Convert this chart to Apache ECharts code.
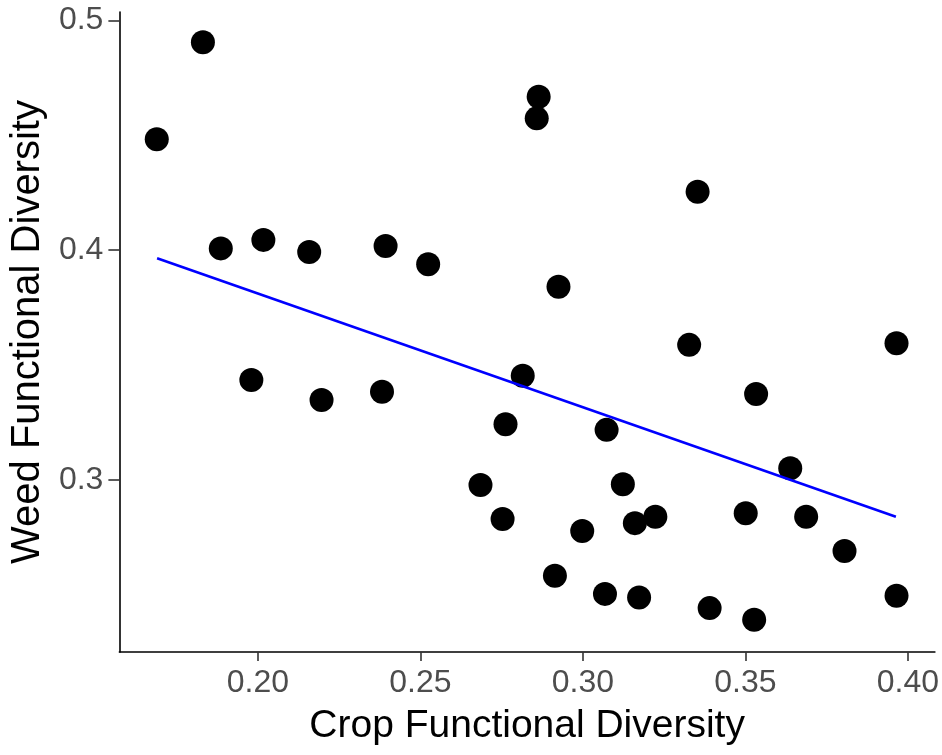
<!DOCTYPE html>
<html>
<head>
<meta charset="utf-8">
<script src="https://cdn.jsdelivr.net/npm/echarts@6/dist/echarts.min.js"></script>
<style>
html,body{margin:0;padding:0;background:#fff;}
#chart{width:942px;height:755px;}
</style>
</head>
<body>
<div id="chart"></div>
<script>
// Crop functional diversity (x) and weed functional diversity (y)
var cropFD = [0.1689,0.1831,0.1886,0.2017,0.2158,0.2393,0.2524,0.1980,0.2196,0.2382,
  0.2864,0.2858,0.3353,0.2925,0.3327,0.3965,0.2815,0.3533,0.2762,0.3073,
  0.2685,0.3123,0.2753,0.3160,0.3223,0.2998,0.3501,0.3687,0.3638,0.3805,
  0.2914,0.3068,0.3173,0.3390,0.3527,0.3965];
var weedFD = [0.4483,0.4905,0.4008,0.4045,0.3992,0.4018,0.3939,0.3435,0.3348,0.3384,
  0.4668,0.4574,0.4255,0.3841,0.3588,0.3595,0.3454,0.3374,0.3242,0.3218,
  0.2978,0.2981,0.2830,0.2812,0.2840,0.2778,0.2855,0.2840,0.3051,0.2691,
  0.2583,0.2504,0.2488,0.2442,0.2391,0.2496];
// fitted linear trend endpoints
var fitX = [0.1690, 0.3963];
var fitY = [0.3965, 0.2840];
var xTicks = [0.20, 0.25, 0.30, 0.35, 0.40];
var yTicks = [0.3, 0.4, 0.5];

var pts = cropFD.map(function(x,i){return [x, weedFD[i]];});
var fit = fitX.map(function(x,i){return [x, fitY[i]];});

var chart = echarts.init(document.getElementById('chart'));
chart.setOption({
  animation:false,
  backgroundColor:'#ffffff',
  grid:{left:118.3, right:4.7, top:12, bottom:103, containLabel:false},
  xAxis:{
    type:'value', min:0.1574, max:0.4083,
    name:'Crop Functional Diversity', nameLocation:'middle', nameGap:55,
    nameTextStyle:{color:'#000', fontSize:39, fontFamily:'Liberation Sans'},
    axisLine:{show:true, onZero:false, lineStyle:{color:'#000', width:1.6}},
    axisTick:{show:true, length:9, lineStyle:{color:'#333', width:1.6},
      customValues:xTicks},
    axisLabel:{color:'#4D4D4D', fontSize:32, fontFamily:'Liberation Sans', margin:15,
      customValues:xTicks, formatter:function(v){return v.toFixed(2);}},
    splitLine:{show:false}
  },
  yAxis:{
    type:'value', min:0.2251, max:0.5037,
    name:'Weed Functional Diversity', nameLocation:'middle', nameGap:70,
    nameTextStyle:{color:'#000', fontSize:40, fontFamily:'Liberation Sans'},
    axisLine:{show:true, onZero:false, lineStyle:{color:'#000', width:1.6}},
    axisTick:{show:true, length:11, lineStyle:{color:'#333', width:1.6},
      customValues:yTicks},
    axisLabel:{color:'#4D4D4D', fontSize:32, fontFamily:'Liberation Sans', margin:16,
      customValues:yTicks, formatter:function(v){return v.toFixed(1);}},
    splitLine:{show:false}
  },
  series:[
    {type:'scatter', data:pts, symbol:'circle', symbolSize:24,
      itemStyle:{color:'#000', opacity:1}, z:2},
    {type:'line', data:fit, showSymbol:false, symbol:'none',
      lineStyle:{color:'#0000FF', width:2.6}, z:3}
  ]
});
</script>
</body>
</html>
